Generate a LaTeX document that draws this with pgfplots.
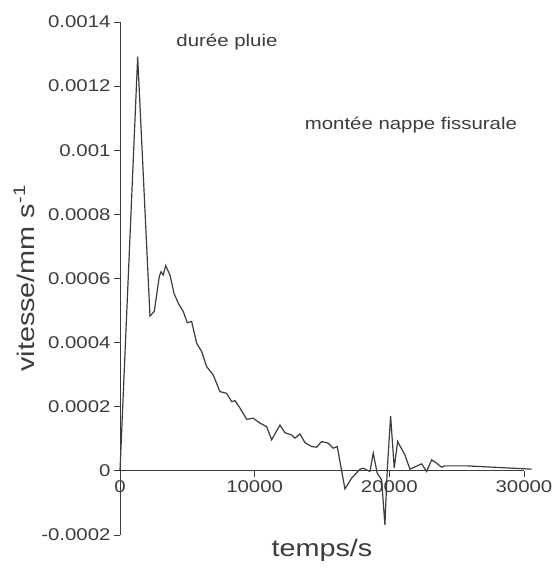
\documentclass[border=0pt]{standalone}
\usepackage{fontspec}
\setmainfont{Liberation Sans}[FakeStretch=1.2]
\usepackage{pgfplots}
\pgfplotsset{compat=1.18}
\definecolor{ink}{HTML}{3C3C3C}
\begin{document}
\begin{tikzpicture}
\begin{axis}[
    scale only axis,
    width=404pt, height=513pt,
    xmin=0, xmax=30000,
    ymin=-0.0002, ymax=0.0014,
    clip=false,
    axis lines=middle,
    axis line style={-, ink, line width=0.8pt},
    hide obscured x ticks=false,
    hide obscured y ticks=false,
    scaled ticks=false,
    xtick={0,10000,20000,30000},
    xticklabels={0,10000,20000,30000},
    ytick={-0.0002,0,0.0002,0.0004,0.0006,0.0008,0.001,0.0012,0.0014},
    yticklabels={-0.0002,0,0.0002,0.0004,0.0006,0.0008,0.001,0.0012,0.0014},
    tick align=outside,
    major tick length=6pt,
    tick style={ink, line width=0.8pt},
    ticklabel style={font=\fontsize{17}{17}\selectfont, text=ink},
    xlabel={temps/s},
    ylabel={vitesse/mm s\textsuperscript{-1}},
    xlabel style={at={(axis description cs:0.5,0)}, anchor=north, yshift=-1pt,
                  font=\fontsize{24}{24}\selectfont, text=ink},
    ylabel style={at={(axis description cs:-0.203,0.5)}, anchor=south, rotate=90,
                  font=\fontsize{24}{24}\selectfont, text=ink},
]
\addplot[ink, line width=1.2pt] coordinates {
(0,0) (1314,0.001292) (2227,0.000483) (2546,0.000497) (2918,0.000606)
(3044,0.000621) (3215,0.000611) (3393,0.000640) (3712,0.000611)
(4009,0.000554) (4328,0.000523) (4699,0.000497) (4996,0.000462)
(5323,0.000466) (5694,0.000398) (6065,0.000372) (6437,0.000325)
(6927,0.000299) (7424,0.000247) (7921,0.000242) (8293,0.000216)
(8537,0.000219) (8909,0.000196) (9406,0.000161) (9896,0.000164)
(10394,0.000149) (10891,0.000138) (11262,0.0000967) (11878,0.000143)
(12249,0.000119) (12747,0.000112) (12992,0.000102) (13363,0.000115)
(13734,0.0000882) (14232,0.0000758) (14603,0.0000739) (14974,0.0000914)
(15464,0.0000864) (15835,0.0000708) (16132,0.0000758) (16704,-0.0000561)
(17201,-0.0000228) (17817,0.0000053) (18062,0.0000084) (18560,-0.000002)
(18805,0.0000552) (19102,-0.0000072) (19428,-0.0000281) (19673,-0.000168)
(19844,0) (20097,0.000171) (20364,0.0000084) (20616,0.0000914)
(21158,0.00005) (21530,0.0000053) (22398,0.0000218) (22769,-0.000002)
(23140,0.0000343) (23511,0.000024) (23883,0.0000115) (24128,0.0000156)
(25739,0.0000156) (30565,0.0000053)
};
\node[text=ink, font=\fontsize{17}{17}\selectfont] at (axis cs:7943,0.001338) {durée pluie};
\node[text=ink, font=\fontsize{17}{17}\selectfont] at (axis cs:21603,0.001079) {montée nappe fissurale};
\coordinate (bl) at (rel axis cs:-0.2970,-0.0741);
\coordinate (tr) at (rel axis cs:1.0842,1.0429);
\end{axis}
\pgfresetboundingbox
\path[use as bounding box] (bl) rectangle (tr);
\end{tikzpicture}
\end{document}
